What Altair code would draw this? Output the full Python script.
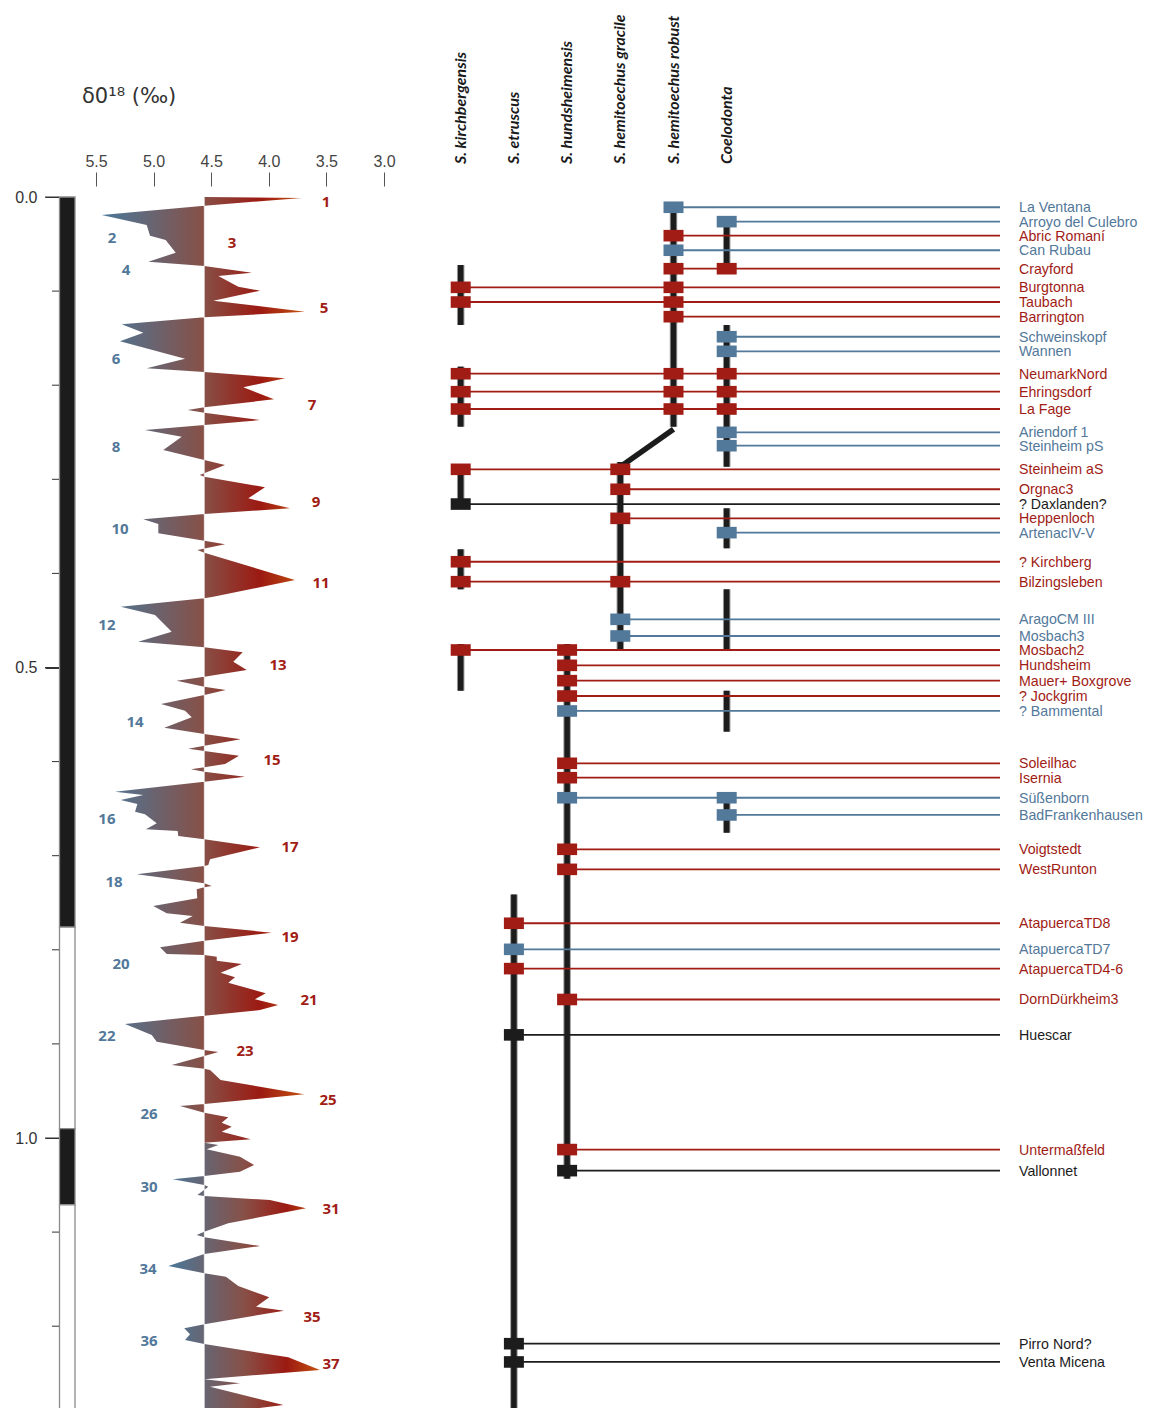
import altair as alt
import pandas as pd

# ---------------- delta 18O curve (age in Ma, value in per mil) ----------------
BASE = 4.56
upper_age = [0.000, 0.001, 0.0092, 0.0191, 0.0298, 0.0411, 0.0457, 0.0592, 0.0688, 0.0733,
             0.0804, 0.0840, 0.0953, 0.0996, 0.1102, 0.1219, 0.1278, 0.1353, 0.1442, 0.1533,
             0.1718, 0.1820, 0.1860, 0.1927, 0.2022, 0.2150, 0.2235, 0.2264, 0.2292, 0.2370,
             0.2423, 0.2476, 0.2547, 0.2689, 0.2795, 0.2848, 0.2954, 0.2972, 0.3085, 0.3202,
             0.3308, 0.3369, 0.3425, 0.3475, 0.3574, 0.3652, 0.3691, 0.3751, 0.3780, 0.4070,
             0.4248, 0.4265, 0.4354, 0.4442, 0.4620, 0.4726, 0.4785, 0.4838, 0.4938, 0.5027,
             0.5098, 0.5140, 0.5204, 0.5239, 0.5292, 0.5388, 0.5459, 0.5529, 0.5640, 0.5707,
             0.5763, 0.5831, 0.5863, 0.5887, 0.5937, 0.6026, 0.6061, 0.6082, 0.6107, 0.6160,
             0.6214, 0.6320, 0.6355, 0.6408, 0.6451, 0.6532, 0.6560, 0.6656, 0.6719, 0.6737,
             0.6791, 0.6826, 0.6911, 0.7038, 0.7099, 0.7109, 0.7198, 0.7293, 0.7322, 0.7336,
             0.7357, 0.7453, 0.7535, 0.7612, 0.7641, 0.7712, 0.7747, 0.7818, 0.7903, 0.7973,
             0.8045, 0.8055, 0.8073, 0.8116, 0.8151, 0.8243, 0.8292, 0.8350, 0.8462, 0.8526,
             0.8587, 0.8640, 0.8700, 0.8789, 0.8905, 0.8977, 0.9065, 0.9086, 0.9129, 0.9224,
             0.9264, 0.9277, 0.9384, 0.9535, 0.9639, 0.9660, 0.9731, 0.9780, 0.9837, 0.9880,
             0.9933, 1.0014, 1.0050]
upper_val = [4.56, 3.714, 4.56, 5.451, 5.060, 5.031, 4.895, 4.808, 5.046, 4.56,
             4.148, 4.438, 4.265, 4.076, 4.482, 3.686, 4.56, 5.277, 5.089, 5.292,
             4.727, 5.060, 4.56, 3.859, 4.221, 3.955, 4.56, 4.704, 4.56, 4.076,
             4.56, 5.075, 4.756, 4.916, 4.56, 4.380, 4.60, 4.56, 4.033, 4.178,
             3.816, 4.56, 5.089, 4.959, 4.959, 4.56, 4.380, 4.62, 4.56, 3.773,
             4.482, 4.56, 5.286, 4.988, 4.843, 5.133, 4.56, 4.227, 4.308, 4.192,
             4.56, 4.800, 4.56, 4.374, 4.56, 4.936, 4.727, 4.669, 4.907, 4.56,
             4.244, 4.56, 4.699, 4.56, 4.259, 4.380, 4.56, 4.675, 4.56, 4.207,
             4.56, 5.335, 5.089, 5.286, 5.141, 5.161, 5.075, 4.973, 5.066, 4.791,
             4.786, 4.56, 4.076, 4.510, 4.525, 4.56, 5.147, 4.56, 4.496, 4.56,
             4.626, 4.621, 5.003, 4.886, 4.661, 4.771, 4.56, 3.975, 4.56, 4.944,
             4.886, 4.56, 4.452, 4.452, 4.235, 4.418, 4.293, 4.352, 4.027, 4.120,
             3.918, 4.076, 4.56, 5.248, 5.016, 4.973, 4.56, 4.438, 4.56, 4.843,
             4.56, 4.510, 4.418, 3.694, 4.56, 4.771, 4.56, 4.352, 4.409, 4.322,
             4.409, 4.157, 4.56]
lower_age = [1.0050, 1.0074, 1.0120, 1.0199, 1.0287, 1.0358, 1.0404, 1.0439, 1.0499, 1.0518,
             1.0606, 1.0616, 1.0659, 1.0747, 1.0907, 1.0996, 1.1031, 1.1056, 1.1148, 1.1233,
             1.1360, 1.1438, 1.1474, 1.1573, 1.1693, 1.1793, 1.1835, 1.1980, 1.2023, 1.2086,
             1.2147, 1.2189, 1.2331, 1.2465, 1.2564, 1.2607, 1.2643, 1.2837, 1.2944]
lower_val = [4.56, 4.438, 4.539, 4.25, 4.128, 4.25, 4.56, 4.834, 4.56, 4.525,
             4.62, 4.56, 3.990, 3.677, 4.352, 4.56, 4.626, 4.56, 4.076, 4.56,
             4.872, 4.56, 4.372, 4.265, 3.996, 4.111, 3.868, 4.56, 4.734, 4.684,
             4.727, 4.56, 3.831, 3.556, 4.56, 4.25, 4.510, 3.874, 4.56]

# Marine isotope stage labels
stage_num = ["2", "4", "6", "8", "10", "12", "14", "16", "18", "20", "22", "26", "30", "34", "36",
             "1", "3", "5", "7", "9", "11", "13", "15", "17", "19", "21", "23", "25", "31", "35", "37"]
stage_age = [0.0436, 0.0776, 0.1722, 0.2657, 0.3528, 0.4548, 0.5579, 0.6610, 0.7279, 0.8151,
             0.8916, 0.9745, 1.0521, 1.1392, 1.2157,
             0.0053, 0.0489, 0.1180, 0.2210, 0.3241, 0.4102, 0.4973, 0.5983, 0.6908, 0.7864,
             0.8533, 0.9075, 0.9596, 1.0754, 1.1902, 1.2402]
stage_val = [5.361, 5.240, 5.326, 5.326, 5.292, 5.405, 5.161, 5.405, 5.344, 5.283,
             5.405, 5.040, 5.040, 5.049, 5.040,
             3.503, 4.319, 3.521, 3.625, 3.590, 3.547, 3.920, 3.972, 3.816, 3.816,
             3.651, 4.207, 3.486, 3.460, 3.625, 3.460]
stage_kind = ["b"] * 15 + ["r"] * 16

# Magnetic polarity chrons
chron_start = [0.0, 0.776, 0.990, 1.071]
chron_end = [0.776, 0.990, 1.071, 1.40]
chron_pol = ["n", "r", "n", "r"]

# Species columns and their ranges
species = ["S. kirchbergensis", "S. etruscus", "S. hundsheimensis",
           "S. hemitoechus gracile", "S. hemitoechus robust", "Coelodonta"]
sp_key = {"K": species[0], "E": species[1], "H": species[2],
          "G": species[3], "R": species[4], "C": species[5]}
range_sp = ["K", "K", "K", "K", "K", "E", "H", "G", "R", "C", "C", "C", "C", "C", "C"]
range_start = [0.0723, 0.1803, 0.2891, 0.3744, 0.4750, 0.7413, 0.4750, 0.2816, 0.0106,
               0.0262, 0.1360, 0.3308, 0.4169, 0.5247, 0.6323]
range_end = [0.1360, 0.2441, 0.3305, 0.4169, 0.5247, 1.40, 1.0434, 0.4807, 0.2441,
             0.0762, 0.2866, 0.3733, 0.4807, 0.5682, 0.6756]
link_sp = ["R", "G"]
link_age = [0.2469, 0.2866]

# Sites
site_names = ["La Ventana", "Arroyo del Culebro", "Abric Romaní", "Can Rubau", "Crayford",
              "Burgtonna", "Taubach", "Barrington", "Schweinskopf", "Wannen",
              "NeumarkNord", "Ehringsdorf", "La Fage", "Ariendorf 1", "Steinheim pS",
              "Steinheim aS", "Orgnac3", "? Daxlanden?", "Heppenloch", "ArtenacIV-V",
              "? Kirchberg", "Bilzingsleben", "AragoCM III", "Mosbach3", "Mosbach2",
              "Hundsheim", "Mauer+ Boxgrove", "? Jockgrim", "? Bammental", "Soleilhac",
              "Isernia", "Süßenborn", "BadFrankenhausen", "Voigtstedt", "WestRunton",
              "AtapuercaTD8", "AtapuercaTD7", "AtapuercaTD4-6", "DornDürkheim3", "Huescar",
              "Untermaßfeld", "Vallonnet", "Pirro Nord?", "Venta Micena"]
site_ages = [0.0109, 0.0262, 0.0411, 0.0566, 0.0762, 0.0960, 0.1116, 0.1272, 0.1485, 0.1640,
             0.1878, 0.2069, 0.2253, 0.2501, 0.2643, 0.2894, 0.3106, 0.3263, 0.3415, 0.3567,
             0.3876, 0.4088, 0.4488, 0.4665, 0.4814, 0.4977, 0.5140, 0.5303, 0.5462, 0.6018,
             0.6171, 0.6384, 0.6567, 0.6932, 0.7145, 0.7718, 0.7995, 0.8200, 0.8528, 0.8904,
             1.0123, 1.0347, 1.2186, 1.2380]
site_kind = ["b", "b", "r", "b", "r", "r", "r", "r", "b", "b",
             "r", "r", "r", "b", "b", "r", "r", "k", "r", "b",
             "r", "r", "b", "b", "r", "r", "r", "r", "b", "r",
             "r", "b", "b", "r", "r", "r", "b", "r", "r", "k",
             "r", "k", "k", "k"]
site_species = ["R", "C", "R", "R", "RC", "KR", "KR", "R", "C", "C",
                "KRC", "KRC", "KRC", "C", "C", "KG", "G", "K", "G", "C",
                "K", "KG", "G", "G", "KH", "H", "H", "H", "H", "H",
                "H", "HC", "C", "H", "H", "E", "E", "E", "H", "E",
                "H", "H", "E", "E"]

minor_ticks = [0.1, 0.2, 0.3, 0.4, 0.6, 0.7, 0.8, 0.9, 1.1, 1.2]
x_ticks = [5.5, 5.0, 4.5, 4.0, 3.5, 3.0]
TITLE = "δ0¹⁸ (‰)"

# ---------------- tables ----------------
curve_df = pd.concat([
    pd.DataFrame({"age": upper_age, "val": upper_val, "part": "upper"}),
    pd.DataFrame({"age": lower_age, "val": lower_val, "part": "lower"}),
])
stage_df = pd.DataFrame({"n": stage_num, "a": stage_age, "v": stage_val, "k": stage_kind})
chron_df = pd.DataFrame({"s": chron_start, "e": chron_end, "p": chron_pol})
range_df = pd.DataFrame({"sp": [sp_key[k] for k in range_sp], "s": range_start, "e": range_end})
link_df = pd.DataFrame({"sp": [sp_key[k] for k in link_sp], "a": link_age, "o": [0, 1]})
order = {k: i for i, k in enumerate("KEHGRC")}
line_df = pd.DataFrame({
    "name": site_names, "a": site_ages, "k": site_kind,
    "first": [sp_key[min(s, key=lambda c: order[c])] for s in site_species],
})
sq_rows = []
for n, a, k, s in zip(site_names, site_ages, site_kind, site_species):
    for c in s:
        sq_rows.append({"name": n, "a": a, "k": k, "sp": sp_key[c]})
sq_df = pd.DataFrame(sq_rows)
head_df = pd.DataFrame({"sp": species})
minor_df = pd.DataFrame({"a": minor_ticks})
major_df = pd.DataFrame({"a": [0.0, 0.5, 1.0]})
title_df = pd.DataFrame({"t": [TITLE]})
base_df = pd.DataFrame({"s": [0.0], "e": [1.4], "b": [BASE]})

# ---------------- scales ----------------
yscale = alt.Scale(domain=[0, 1.3], range=[189, 189 + 941 * 1.3], nice=False, zero=False)
xd = alt.Scale(domain=[5.5, 3.0], range=[88, 376], nice=False, zero=False)
xs = alt.Scale(type="point", domain=species, range=[452.7, 718.7], padding=0)
cscale = alt.Scale(domain=["r", "b", "k"], range=["#a01c15", "#52789a", "#1c1c1c"])
NOAX = None

grad = alt.Gradient(
    gradient="linear", x1=0, x2=1, y1=0, y2=0,
    stops=[alt.GradientStop(color="#4a789a", offset=0),
           alt.GradientStop(color="#875047", offset=0.5),
           alt.GradientStop(color="#9c1a12", offset=0.78),
           alt.GradientStop(color="#c4520f", offset=1)])

curve = alt.Chart(curve_df).mark_area(orient="horizontal", fill=grad).encode(
    y=alt.Y("age:Q", scale=yscale,
            axis=alt.Axis(orient="left", offset=-51, values=[0.0, 0.5, 1.0], format=".1f",
                          tickSize=14, labelPadding=8, domain=False, grid=False,
                          labelFlush=False, labelFontSize=16, labelColor="#333",
                          tickColor="#333", labelFont="Liberation Sans", title=None)),
    x=alt.X("val:Q", scale=xd,
            axis=alt.Axis(orient="top", offset=-178, values=x_ticks, format=".1f",
                          tickSize=14, labelPadding=3, domain=False, grid=False,
                          labelFlush=False, labelFontSize=16, labelColor="#444",
                          tickColor="#555", labelFont="Liberation Sans", title=None)),
    x2=alt.datum(BASE),
    detail="part:N",
)

baseline = alt.Chart(base_df).mark_rule(color="white", strokeWidth=1, opacity=0.6).encode(
    x=alt.X("b:Q", scale=xd, axis=NOAX),
    y=alt.Y("s:Q", scale=yscale, axis=NOAX), y2="e:Q")

stages = alt.Chart(stage_df).mark_text(fontWeight="bold", fontSize=15, font="Noto Sans",
                                       align="center", baseline="middle").encode(
    x=alt.X("v:Q", scale=xd, axis=NOAX),
    y=alt.Y("a:Q", scale=yscale, axis=NOAX),
    text="n:N",
    color=alt.Color("k:N", scale=cscale, legend=None))

chrons = alt.Chart(chron_df).mark_rect(stroke="#8a8a8a", strokeWidth=1.3).encode(
    x=alt.value(51.5), x2=alt.value(67),
    y=alt.Y("s:Q", scale=yscale, axis=NOAX), y2="e:Q",
    fill=alt.Fill("p:N", scale=alt.Scale(domain=["n", "r"], range=["#1c1c1c", "#ffffff"]),
                  legend=None))

minor = alt.Chart(minor_df).mark_rule(color="#333", strokeWidth=1).encode(
    x=alt.value(44), x2=alt.value(51), y=alt.Y("a:Q", scale=yscale, axis=NOAX))
major = alt.Chart(major_df).mark_rule(color="#333", strokeWidth=1).encode(
    x=alt.value(37), x2=alt.value(51), y=alt.Y("a:Q", scale=yscale, axis=NOAX))

title = alt.Chart(title_df).mark_text(align="left", baseline="middle", fontSize=21,
                                      color="#333", font="DejaVu Sans").encode(
    text="t:N", x=alt.value(74), y=alt.value(89))

heads = alt.Chart(head_df).mark_text(angle=270, align="left", baseline="middle",
                                     font="Lato", fontStyle="italic", fontWeight="bold",
                                     fontSize=16, color="#1a1a1a").encode(
    x=alt.X("sp:N", scale=xs, axis=NOAX), y=alt.value(156), text="sp:N")

bars_halo = alt.Chart(range_df).mark_rule(color="#9a9a9a", strokeWidth=7.5, strokeCap="butt").encode(
    x=alt.X("sp:N", scale=xs, axis=NOAX),
    y=alt.Y("s:Q", scale=yscale, axis=NOAX), y2="e:Q")
bars = alt.Chart(range_df).mark_rule(color="#1c1c1c", strokeWidth=5.5, strokeCap="butt").encode(
    x=alt.X("sp:N", scale=xs, axis=NOAX),
    y=alt.Y("s:Q", scale=yscale, axis=NOAX), y2="e:Q")
link = alt.Chart(link_df).mark_line(color="#1c1c1c", strokeWidth=5.5).encode(
    x=alt.X("sp:N", scale=xs, axis=NOAX),
    y=alt.Y("a:Q", scale=yscale, axis=NOAX), order="o:Q")

lines = alt.Chart(line_df).mark_rule(strokeWidth=1.8).encode(
    x=alt.X("first:N", scale=xs, axis=NOAX), x2=alt.value(992),
    y=alt.Y("a:Q", scale=yscale, axis=NOAX),
    color=alt.Color("k:N", scale=cscale, legend=None))

squares = alt.Chart(sq_df).mark_point(shape="M-1,-0.58H1V0.58H-1Z", size=400, filled=True,
                                      opacity=1).encode(
    x=alt.X("sp:N", scale=xs, axis=NOAX),
    y=alt.Y("a:Q", scale=yscale, axis=NOAX),
    color=alt.Color("k:N", scale=cscale, legend=None))

labels = alt.Chart(line_df).mark_text(align="left", baseline="middle", fontSize=14.2,
                                      font="Liberation Sans", dy=1).encode(
    x=alt.value(1011), y=alt.Y("a:Q", scale=yscale, axis=NOAX), text="name:N",
    color=alt.Color("k:N", scale=cscale, legend=None))

chart = alt.layer(
    curve, baseline, stages, chrons, minor, major, title, heads,
    bars_halo, bars, link, lines, squares, labels
).resolve_scale(x="independent").resolve_axis(x="independent", y="independent").properties(
    width=1138, height=1400, autosize=alt.AutoSizeParams(type="none"), padding=0
).configure_view(stroke=None)

chart.save("out.html", embed_options={"renderer": "svg", "actions": False})
